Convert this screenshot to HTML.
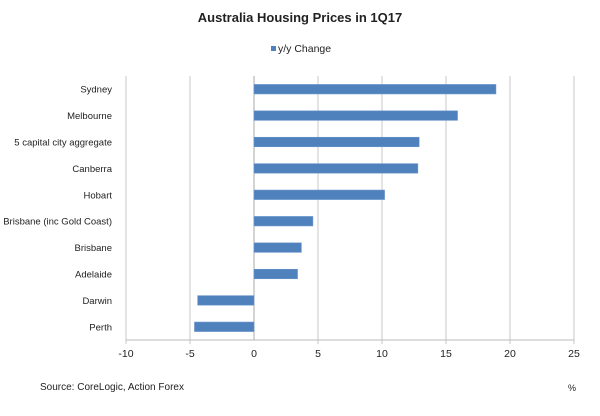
<!DOCTYPE html>
<html><head><meta charset="utf-8"><style>
body{margin:0;background:#fff;}
svg text{font-family:"Liberation Sans",Arial,sans-serif;fill:#222;}
</style></head><body>
<svg width="600" height="411">
<text x="300" y="22" text-anchor="middle" font-size="13" font-weight="bold">Australia Housing Prices in 1Q17</text>
<g>
<rect x="271" y="46" width="5" height="5" fill="#4f81bd"/>
<text x="278" y="52" font-size="10.5">y/y Change</text>
</g>
<g id="grid"></g><g id="bars"></g><g id="labels"></g><g id="ticks"></g>
<text x="40" y="390" font-size="10">Source: CoreLogic, Action Forex</text>
<text x="568" y="391" font-size="9">%</text>
</svg>
<script>
const categories=["Sydney","Melbourne","5 capital city aggregate","Canberra","Hobart","Brisbane (inc Gold Coast)","Brisbane","Adelaide","Darwin","Perth"];
const values=[18.9,15.9,12.9,12.8,10.2,4.6,3.7,3.4,-4.4,-4.65];
const tickValues=[-10,-5,0,5,10,15,20,25];
const NS="http://www.w3.org/2000/svg";
const L=126,R=574,T=76,B=340,xmin=-10,xmax=25;
const x=v=>L+(v-xmin)/(xmax-xmin)*(R-L);
const band=(B-T)/categories.length;
const y=i=>T+band*(i+0.5);
function mk(tag,a,p){const e=document.createElementNS(NS,tag);for(const k in a)e.setAttribute(k,a[k]);p.appendChild(e);return e;}
const g=document.getElementById('grid'),bg=document.getElementById('bars'),lg=document.getElementById('labels'),tg=document.getElementById('ticks');
tickValues.forEach(t=>{
 if(t!==0){const l=mk('line',{x1:x(t),x2:x(t),y1:T,y2:B+4,stroke:'#c8c8c8','stroke-width':1},g);
 
 }
 const tx=mk('text',{x:x(t),y:B+17,'text-anchor':'middle','font-size':'10.5'},tg);
 tx.textContent=t;
 
 
});
const ax=mk('line',{x1:L,x2:R,y1:B,y2:B,stroke:'#bbb','stroke-width':1},g);


const ya=mk('line',{x1:x(0),x2:x(0),y1:T,y2:B,stroke:'#aaa','stroke-width':1},g);


categories.forEach((c,i)=>{
 const v=values[i],h=9.5;
 const r=mk('rect',{x:Math.min(x(0),x(v)),y:y(i)-h/2,width:Math.abs(x(v)-x(0)),height:h,fill:'#4f81bd',stroke:'#6a96cc','stroke-width':0.6},bg);
 
 
 const t=mk('text',{x:112,y:y(i)+3.5,'text-anchor':'end','font-size':'9.5'},lg);
 t.textContent=c;
 
 
});
</script>
</body></html>
